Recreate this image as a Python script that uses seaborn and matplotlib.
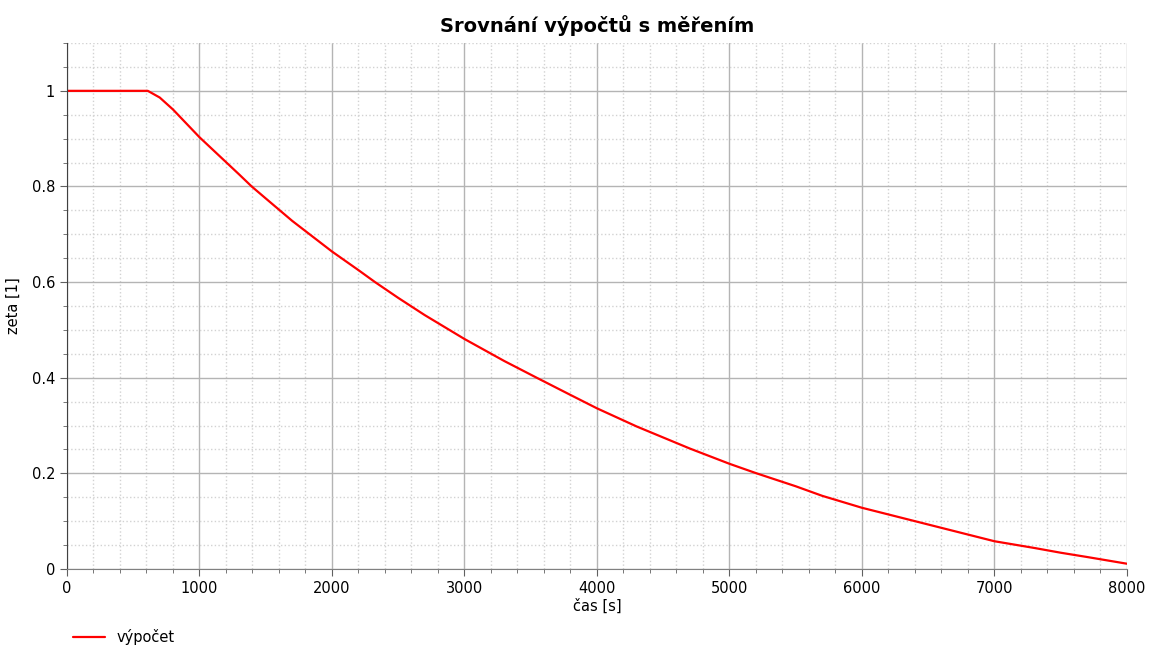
import pandas as pd
import matplotlib.pyplot as plt
from matplotlib.ticker import MultipleLocator
import seaborn as sns

# %% data
cas = [0, 300, 610, 700, 800, 900, 1000, 1100, 1200, 1300, 1394, 1500, 1700,
       2000, 2200, 2325, 2500, 2700, 3000, 3300, 3545, 3800, 4000, 4300, 4500,
       4700, 5000, 5205, 5500, 5700, 6000, 6300, 6500, 6700, 7000, 7300, 7500,
       7700, 8000]
zeta = [1.0, 1.0, 1.0, 0.986, 0.961, 0.932, 0.903, 0.877, 0.851, 0.825, 0.800,
        0.775, 0.728, 0.664, 0.625, 0.600, 0.567, 0.531, 0.481, 0.435, 0.400,
        0.364, 0.336, 0.298, 0.275, 0.252, 0.220, 0.200, 0.173, 0.153, 0.128,
        0.107, 0.093, 0.079, 0.058, 0.044, 0.034, 0.025, 0.011]

df = pd.DataFrame({'cas': cas, 'zeta': zeta})

# %% plot
sns.set_style('white')
plt.rcParams['font.family'] = ['DejaVu Sans']
plt.rcParams['text.color'] = 'black'
plt.rcParams['axes.labelcolor'] = 'black'
plt.rcParams['xtick.color'] = 'black'
plt.rcParams['ytick.color'] = 'black'

fig = plt.figure(figsize=(11.49, 6.49), dpi=100)
ax = fig.add_axes([0.0583, 0.1233, 0.9225, 0.8104])

sns.lineplot(data=df, x='cas', y='zeta', color='red', linewidth=1.6,
             ax=ax, label='výpočet', legend=False)

ax.set_xlim(0, 8000)
ax.set_ylim(0, 1.1)
ax.xaxis.set_major_locator(MultipleLocator(1000))
ax.xaxis.set_minor_locator(MultipleLocator(200))
ax.yaxis.set_major_locator(MultipleLocator(0.2))
ax.yaxis.set_minor_locator(MultipleLocator(0.05))
ax.set_yticks([0, 0.2, 0.4, 0.6, 0.8, 1.0])
ax.set_yticklabels(['0', '0.2', '0.4', '0.6', '0.8', '1'])

ax.grid(which='major', color='#b4b4b4', linestyle='-', linewidth=1)
ax.grid(which='minor', color='#d2d2d2', linestyle=':', linewidth=1)
ax.set_axisbelow(True)

ax.spines['top'].set_visible(False)
ax.spines['right'].set_visible(False)
ax.spines['left'].set_color('#404040')
ax.spines['bottom'].set_color('#808080')
ax.tick_params(which='major', direction='out', length=5, color='#606060',
               labelsize=10.5, labelcolor='black', left=True, bottom=True)
ax.tick_params(which='minor', direction='out', length=3, color='#606060',
               left=True, bottom=True)

ax.set_xlabel('čas [s]', fontsize=10.5, labelpad=2, color='black')
ax.set_ylabel('zeta [1]', fontsize=10.5, labelpad=8, color='black')
ax.set_title('Srovnání výpočtů s měřením', fontsize=14, fontweight='bold',
             pad=8, color='black')

leg = fig.legend(loc='lower left', bbox_to_anchor=(0.052, -0.014), frameon=False,
                 fontsize=10.5, handlelength=2.2)
for t in leg.get_texts():
    t.set_color('black')

plt.savefig('out.png', dpi=100)
